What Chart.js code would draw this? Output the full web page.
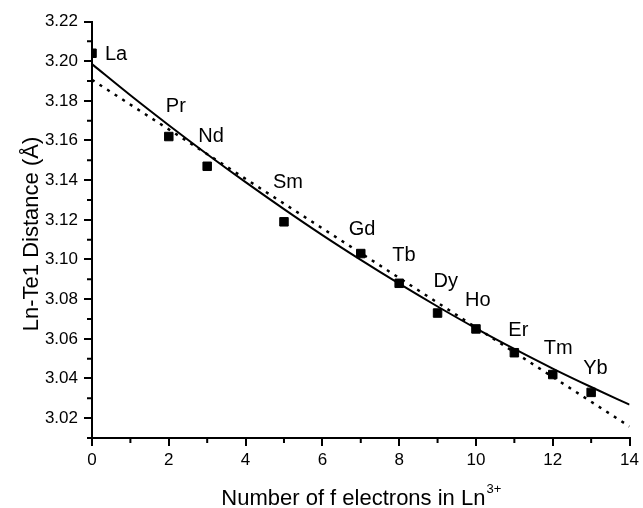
<!DOCTYPE html>
<html>
<head>
<meta charset="utf-8">
<script src="https://cdn.jsdelivr.net/npm/chart.js@4.4.1/dist/chart.umd.min.js"></script>
<style>
  html, body { margin: 0; padding: 0; background: #fff; }
  #wrap { width: 643px; height: 508px; }
</style>
</head>
<body>
<div id="wrap"><canvas id="chart" width="643" height="508"></canvas></div>
<script>
// data
const elements = ['La', 'Pr', 'Nd', 'Sm', 'Gd', 'Tb', 'Dy', 'Ho', 'Er', 'Tm', 'Yb'];
const fElectrons = [0, 2, 3, 5, 7, 8, 9, 10, 11, 12, 13];
const distances = [3.204, 3.162, 3.147, 3.119, 3.103, 3.088, 3.073, 3.065, 3.053, 3.042, 3.033];

// solid fitted curve, read at each integer x
const curveX = [0, 1, 2, 3, 4, 5, 6, 7, 8, 9, 10, 11, 12, 13, 14];
const curveY = [3.1985, 3.1828, 3.1677, 3.1531, 3.1390, 3.1254, 3.1123, 3.0998, 3.0878, 3.0763, 3.0653, 3.0549, 3.0450, 3.0357, 3.0268];

// dotted straight line, read at both ends
const lineX = [0, 14];
const lineY = [3.1906, 3.0158];

const xTicks = [0, 2, 4, 6, 8, 10, 12, 14];
const xMinorTicks = [1, 3, 5, 7, 9, 11, 13];
const yTicks = [3.02, 3.04, 3.06, 3.08, 3.10, 3.12, 3.14, 3.16, 3.18, 3.20, 3.22];
const yMinorTicks = [3.01, 3.03, 3.05, 3.07, 3.09, 3.11, 3.13, 3.15, 3.17, 3.19, 3.21];

const FONT = '"Liberation Sans", Arial, sans-serif';

// label offsets from each marker: [dx to text left, dy to cap centre]
const labelOffsets = [[13, 0], [-3, -32], [-9, -31], [-11, -41], [-12, -26], [-7, -29],
  [-4, -33], [-11, -30], [-6, -24], [-9, -28], [-8, -25]];

const toXY = (xs, ys) => xs.map((x, i) => ({ x: x, y: ys[i] }));

// minor ticks, point labels and axis titles
const extrasPlugin = {
  id: 'extras',
  afterDraw(chart) {
    const ctx = chart.ctx;
    const xs = chart.scales.x;
    const ys = chart.scales.y;
    const area = chart.chartArea;
    ctx.save();
    ctx.strokeStyle = '#000';
    ctx.lineWidth = 2;
    ctx.beginPath();
    xMinorTicks.forEach(v => {
      const px = xs.getPixelForValue(v);
      ctx.moveTo(px, area.bottom);
      ctx.lineTo(px, area.bottom + 5);
    });
    yMinorTicks.forEach(v => {
      const py = ys.getPixelForValue(v);
      ctx.moveTo(area.left, py);
      ctx.lineTo(area.left - 5, py);
    });
    ctx.stroke();

    // element labels
    ctx.fillStyle = '#000';
    ctx.font = '20px ' + FONT;
    ctx.textAlign = 'left';
    ctx.textBaseline = 'alphabetic';
    elements.forEach((name, i) => {
      const px = xs.getPixelForValue(fElectrons[i]);
      const py = ys.getPixelForValue(distances[i]);
      const off = labelOffsets[i];
      ctx.fillText(name, px + off[0], py + off[1] + 7);
    });

    // x title with superscript
    ctx.font = '22px ' + FONT;
    const main = 'Number of f electrons in Ln';
    const sup = '3+';
    const mw = ctx.measureText(main).width;
    ctx.font = '13px ' + FONT;
    const sw = ctx.measureText(sup).width;
    const startX = (area.left + area.right) / 2 - (mw + sw) / 2;
    ctx.font = '22px ' + FONT;
    ctx.fillText(main, startX, 505);
    ctx.font = '13px ' + FONT;
    ctx.fillText(sup, startX + mw + 1, 493);

    // y title
    ctx.save();
    ctx.translate(38, 234);
    ctx.rotate(-Math.PI / 2);
    ctx.font = '22px ' + FONT;
    ctx.textAlign = 'center';
    ctx.fillText('Ln-Te1 Distance (\u00C5)', 0, 0);
    ctx.restore();
    ctx.restore();
  }
};

const ctx = document.getElementById('chart').getContext('2d');
new Chart(ctx, {
  type: 'scatter',
  data: {
    datasets: [
      {
        label: 'linear',
        data: toXY(lineX, lineY),
        showLine: true,
        borderColor: '#000',
        borderWidth: 2.5,
        borderDash: [3, 6],
        pointRadius: 0,
        fill: false
      },
      {
        label: 'fit',
        data: toXY(curveX, curveY),
        showLine: true,
        borderColor: '#000',
        borderWidth: 2,
        cubicInterpolationMode: 'monotone',
        pointRadius: 0,
        fill: false
      },
      {
        label: 'Ln-Te1',
        data: toXY(fElectrons, distances),
        pointStyle: 'rect',
        pointRadius: 6,
        pointBackgroundColor: '#000',
        pointBorderColor: '#000',
        pointBorderWidth: 1,
        showLine: false
      }
    ]
  },
  options: {
    responsive: false,
    animation: false,
    layout: { padding: { top: 21.5, right: 11, left: 0, bottom: 0 } },
    plugins: {
      legend: { display: false },
      tooltip: { enabled: false }
    },
    scales: {
      x: {
        type: 'linear',
        min: 0,
        max: 14,
        afterBuildTicks: s => { s.ticks = xTicks.map(v => ({ value: v })); },
        afterFit: s => { s.height = 70; },
        border: { color: '#000', width: 2 },
        grid: { drawOnChartArea: false, color: '#000', lineWidth: 2, tickLength: 8 },
        ticks: { color: '#000', font: { family: FONT, size: 17 }, padding: 4, maxRotation: 0 }
      },
      y: {
        type: 'linear',
        min: 3.01,
        max: 3.22,
        afterBuildTicks: s => { s.ticks = yTicks.map(v => ({ value: v })); },
        afterFit: s => { s.width = 92; },
        border: { color: '#000', width: 2 },
        grid: { drawOnChartArea: false, color: '#000', lineWidth: 2, tickLength: 8 },
        ticks: {
          color: '#000',
          font: { family: FONT, size: 17 },
          padding: 6,
          callback: v => v.toFixed(2)
        }
      }
    }
  },
  plugins: [extrasPlugin]
});
</script>
</body>
</html>
